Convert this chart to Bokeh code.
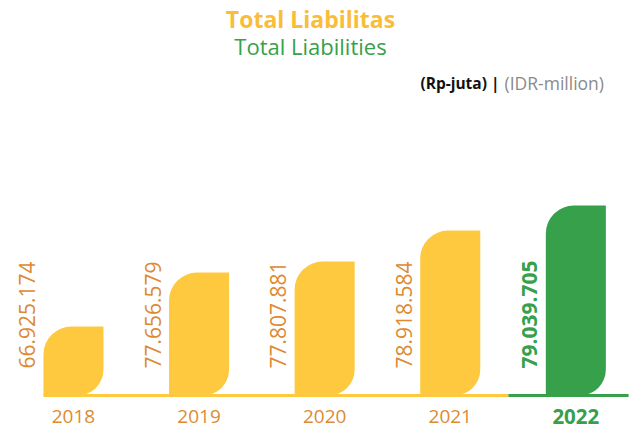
from bokeh.plotting import figure
from bokeh.models import Range1d, Label, ColumnDataSource
from bokeh.core.properties import value
from bokeh.embed import file_html
from bokeh.resources import INLINE
import math

# ---- data ----
years = ["2018", "2019", "2020", "2021", "2022"]
values = ["66.925.174", "77.656.579", "77.807.881", "78.918.584", "79.039.705"]
bar_level = [69, 123, 134, 165, 190]   # displayed bar heights

YELLOW = "#FEC93F"
GREEN = "#36A04A"
ORANGE = "#DD8A32"

W, H = 637, 432
p = figure(width=W, height=H, output_backend="svg", toolbar_location=None,
           min_border=0, x_range=Range1d(-0.581, 4.491), y_range=Range1d(-37, 395))
p.axis.visible = False
p.grid.visible = False
p.outline_line_color = None
p.background_fill_color = "white"

idx = list(range(len(years)))
last = len(years) - 1
colors = [YELLOW] * last + [GREEN]
bw = 0.478

# baseline
p.segment(x0=[idx[0] - bw / 2, idx[last] - 0.537], x1=[idx[last] - 0.537, idx[last] + 0.42],
          y0=[0, 0], y1=[0, 0], line_color=[YELLOW, GREEN], line_width=3)

src = ColumnDataSource(dict(x=idx, top=bar_level, color=colors))
p.vbar(x="x", top="top", bottom=0, width=bw, fill_color="color", line_color=None,
       border_radius=(28, 0, 26, 0), source=src)

# value labels (rotated) and year labels
for i in idx:
    bold = i == last
    p.text(x=[i - 0.37], y=[27], text=[values[i]], angle=math.pi / 2,
           text_align="left", text_baseline="middle",
           text_font=value("Open Sans"), text_font_size="21px",
           text_font_style="bold" if bold else "normal",
           text_color=GREEN if bold else ORANGE)
    p.text(x=[i], y=[-21], text=[years[i]], text_align="center", text_baseline="middle",
           text_font=value("Open Sans"), text_font_size="20.5px" if bold else "19px",
           text_font_style="bold" if bold else "normal",
           text_color=GREEN if bold else ORANGE)

# titles
p.add_layout(Label(x=310, y=H - 18, x_units="screen", y_units="screen",
                   text="Total Liabilitas", text_align="center", text_baseline="middle",
                   text_font="Open Sans", text_font_size="23px", text_font_style="bold",
                   text_color="#F9BD3A"))
p.add_layout(Label(x=310, y=H - 45, x_units="screen", y_units="screen",
                   text="Total Liabilities", text_align="center", text_baseline="middle",
                   text_font="Open Sans", text_font_size="22px",
                   text_color=GREEN))
p.add_layout(Label(x=499, y=H - 82, x_units="screen", y_units="screen",
                   text="(Rp-juta) |", text_align="right", text_baseline="middle",
                   text_font="Open Sans", text_font_size="15.5px", text_font_style="bold",
                   text_color="#111111"))
p.add_layout(Label(x=504, y=H - 82, x_units="screen", y_units="screen",
                   text="(IDR-million)", text_align="left", text_baseline="middle",
                   text_font="Open Sans", text_font_size="17.5px",
                   text_color="#8a8a8a"))

open("out.html", "w").write(file_html(p, INLINE))
